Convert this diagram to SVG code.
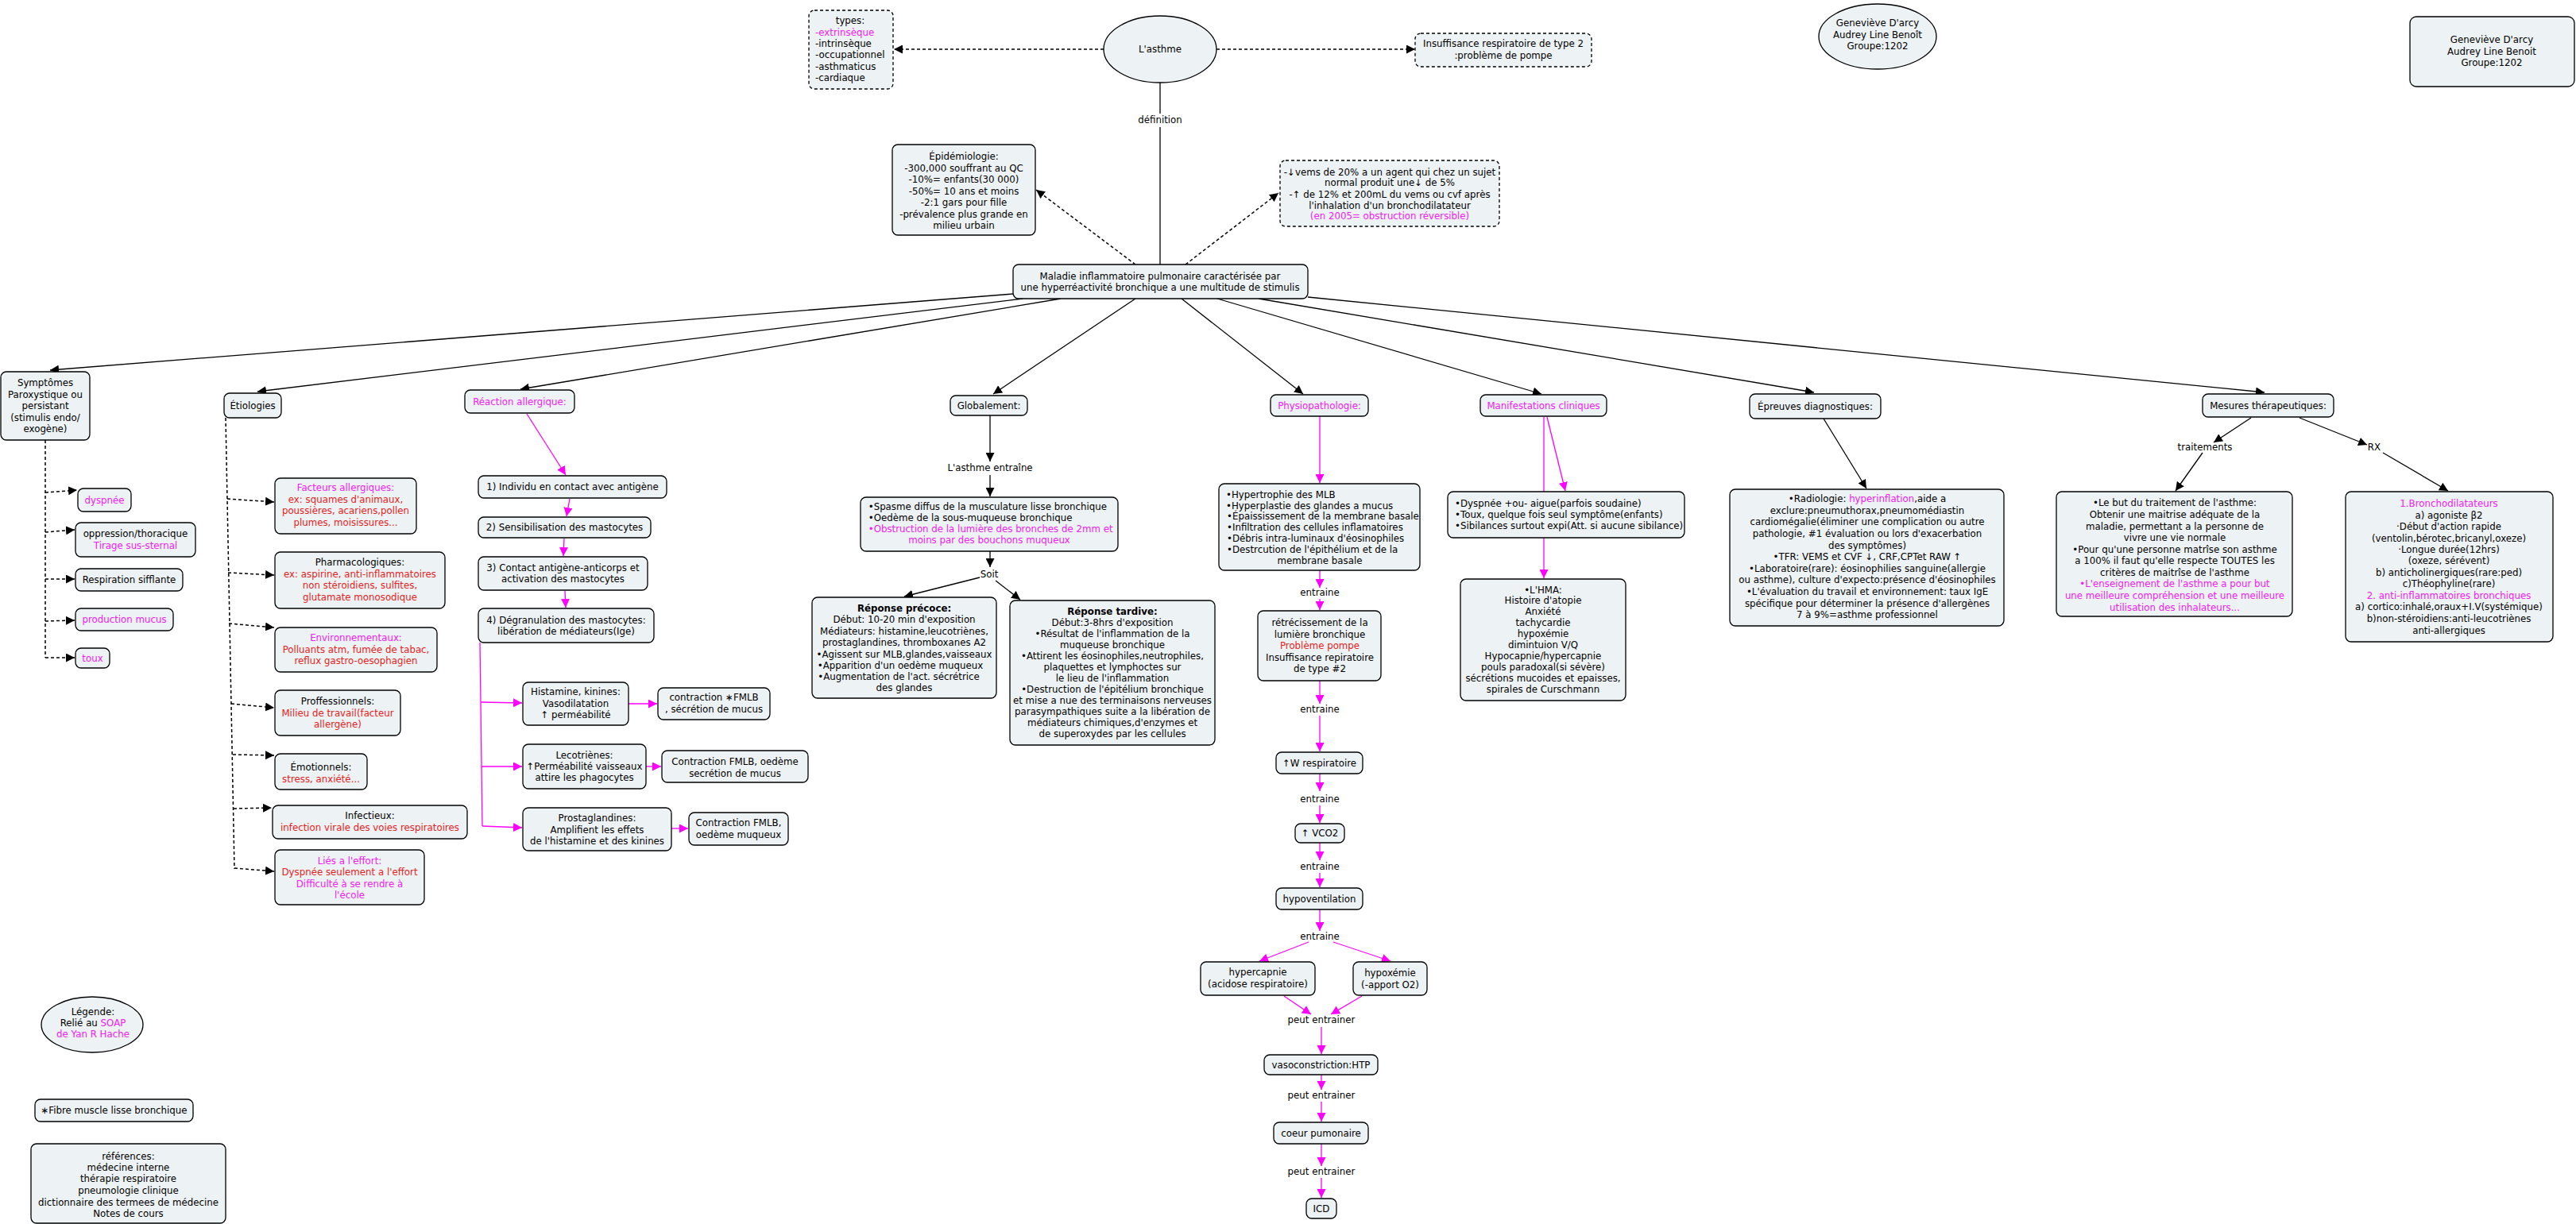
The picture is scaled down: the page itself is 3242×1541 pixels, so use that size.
<svg xmlns="http://www.w3.org/2000/svg" width="3242" height="1541" viewBox="0 0 3242 1541">
<defs>
<style>
.bg{fill:#fff}
.n{fill:#EDF2F4;stroke:#000;stroke-width:1.3}
.nd{fill:#EDF2F4;stroke:#000;stroke-width:1.3;stroke-dasharray:4,3}
text{font-family:"DejaVu Sans","Liberation Sans",sans-serif;font-size:11.8px;fill:#000;text-anchor:middle}
text.l{text-anchor:start}
.m{fill:#F020F0}
.r{fill:#E52222}
.b{font-weight:bold}
.k{stroke:#000;stroke-width:1.3;fill:none}
.kd{stroke:#000;stroke-width:1.5;fill:none;stroke-dasharray:4,3}
.p{stroke:#F0F;stroke-width:1.3;fill:none}
.ka{marker-end:url(#ak)}
.pa{marker-end:url(#am)}
</style>
<marker id="ak" viewBox="0 0 11 11" refX="11" refY="5.5" markerWidth="11" markerHeight="11" markerUnits="userSpaceOnUse" orient="auto"><path d="M0,0 L11,5.5 L0,11 z" fill="#000"/></marker>
<marker id="am" viewBox="0 0 11 11" refX="11" refY="5.5" markerWidth="11" markerHeight="11" markerUnits="userSpaceOnUse" orient="auto"><path d="M0,0 L11,5.5 L0,11 z" fill="#F0F"/></marker>
</defs>
<rect class="bg" x="0" y="0" width="3242" height="1541"/>

<g id="connectors">
<path class="k" d="M1460,104 L1460,143 M1460,160 L1460,333"/>
<path class="kd ka" d="M1389,62 L1125,62"/>
<path class="kd ka" d="M1531,62 L1781,62"/>
<path class="kd ka" d="M1429,333 L1304,239"/>
<path class="kd ka" d="M1492,333 L1609,243"/>
<path class="k ka" d="M1275,370 L63,466"/>
<path class="k ka" d="M1287,376 L324,493"/>
<path class="k ka" d="M1335,376 L655,490"/>
<path class="k ka" d="M1429,376 L1250,496"/>
<path class="k ka" d="M1487,376 L1640,496"/>
<path class="k ka" d="M1532,376 L1940,496"/>
<path class="k ka" d="M1584,376 L2283,494"/>
<path class="k ka" d="M1646,374 L2850,494"/>
<!-- Symptomes -->
<path class="kd" d="M57,554 L57,828"/>
<path class="kd ka" d="M57,620 L97,617"/>
<path class="kd ka" d="M57,670 L94,667"/>
<path class="kd ka" d="M57,729 L94,729"/>
<path class="kd ka" d="M57,782 L94,781"/>
<path class="kd ka" d="M57,828 L94,828"/>
<!-- Etiologies -->
<path class="kd" d="M284,526 L295,1094"/>
<path class="kd ka" d="M286,628 L345,632"/>
<path class="kd ka" d="M287,721 L345,724"/>
<path class="kd ka" d="M288,785 L345,790"/>
<path class="kd ka" d="M291,886 L345,891"/>
<path class="kd ka" d="M293,950 L345,951"/>
<path class="kd ka" d="M294,1018 L342,1017"/>
<path class="kd ka" d="M295,1093 L345,1097"/>
<!-- Reaction allergique -->
<path class="p pa" d="M663,521 L712,598"/>
<path class="p pa" d="M717,628 L713,650"/>
<path class="p pa" d="M710,678 L709,700"/>
<path class="p pa" d="M711,744 L712,765"/>
<path class="p" d="M604,809 L607,1040"/>
<path class="p pa" d="M605,884 L657,885"/>
<path class="p pa" d="M606,965 L657,965"/>
<path class="p pa" d="M607,1040 L657,1042"/>
<path class="p pa" d="M791,886 L827,886"/>
<path class="p pa" d="M813,965 L832,965"/>
<path class="p pa" d="M845,1043 L866,1043"/>
<!-- Globalement -->
<path class="k ka" d="M1246,523 L1246,581"/>
<path class="k ka" d="M1246,598 L1246,625"/>
<path class="k ka" d="M1246,694 L1246,714"/>
<path class="k ka" d="M1233,727 L1138,751"/>
<path class="k ka" d="M1253,731 L1284,755"/>
<!-- Physiopathologie -->
<path class="p pa" d="M1661,524 L1661,608"/>
<path class="p pa" d="M1661,718 L1661,740"/>
<path class="p pa" d="M1661,754 L1661,768"/>
<path class="p pa" d="M1661,857 L1661,886"/>
<path class="p pa" d="M1661,901 L1661,946"/>
<path class="p pa" d="M1661,974 L1661,996"/>
<path class="p pa" d="M1661,1014 L1661,1036"/>
<path class="p pa" d="M1661,1061 L1661,1083"/>
<path class="p pa" d="M1661,1099 L1661,1117"/>
<path class="p pa" d="M1661,1145 L1661,1172"/>
<path class="p pa" d="M1647,1186 L1585,1210"/>
<path class="p pa" d="M1678,1186 L1750,1210"/>
<path class="p pa" d="M1616,1254 L1650,1277"/>
<path class="p pa" d="M1714,1254 L1675,1277"/>
<path class="p pa" d="M1663,1293 L1663,1327"/>
<path class="p pa" d="M1663,1353 L1663,1372"/>
<path class="p pa" d="M1663,1387 L1663,1412"/>
<path class="p pa" d="M1663,1440 L1663,1468"/>
<path class="p pa" d="M1663,1483 L1663,1508"/>
<!-- Manifestations -->
<path class="p" d="M1943,525 L1943,619"/>
<path class="p pa" d="M1947,525 L1970,618"/>
<path class="p pa" d="M1943,677 L1943,728"/>
<!-- Epreuves -->
<path class="k ka" d="M2295,527 L2349,615"/>
<!-- Mesures -->
<path class="k ka" d="M2833,526 L2786,557"/>
<path class="k ka" d="M2772,570 L2738,618"/>
<path class="k ka" d="M2894,526 L2979,560"/>
<path class="k ka" d="M2999,570 L3081,618"/>
<!-- linking phrases -->
<text x="1460" y="155">définition</text>
<text x="1246" y="593">L'asthme entraîne</text>
<text x="1245" y="727">Soit</text>
<text x="1661" y="750">entraine</text>
<text x="1661" y="897">entraine</text>
<text x="1661" y="1010">entraine</text>
<text x="1661" y="1095">entraine</text>
<text x="1661" y="1183">entraine</text>
<text x="1663" y="1288">peut entrainer</text>
<text x="1663" y="1383">peut entrainer</text>
<text x="1663" y="1479">peut entrainer</text>
<text x="2775" y="567">traitements</text>
<text x="2988" y="567">RX</text>
</g>

<g id="n-types"><rect class="nd" x="1018" y="13" width="106" height="99" rx="7"/>
<text x="1070" y="30">types:</text>
<text class="l m" x="1026" y="44.5">-extrinsèque</text>
<text class="l" x="1026" y="58.8">-intrinsèque</text>
<text class="l" x="1026" y="73.3">-occupationnel</text>
<text class="l" x="1026" y="88">-asthmaticus</text>
<text class="l" x="1026" y="102.3">-cardiaque</text></g>

<g id="n-asthme"><ellipse class="n" cx="1460" cy="62" rx="71" ry="42"/><text x="1460" y="66.3">L'asthme</text></g>

<g id="n-insuff"><rect class="nd" x="1781" y="42" width="222" height="42" rx="7"/>
<text x="1892" y="59.3">Insuffisance respiratoire de type 2</text>
<text x="1892" y="74.3">:problème de pompe</text></g>

<g id="n-epid"><rect class="n" x="1123" y="182" width="180" height="114" rx="7"/>
<text x="1213" y="201">Épidémiologie:</text>
<text x="1213" y="216">-300,000 souffrant au QC</text>
<text x="1213" y="230.3">-10%= enfants(30 000)</text>
<text x="1213" y="245">-50%= 10 ans et moins</text>
<text x="1213" y="259.3">-2:1 gars pour fille</text>
<text x="1213" y="273.6">-prévalence plus grande en</text>
<text x="1213" y="288.3">milieu urbain</text></g>

<g id="n-vems"><rect class="nd" x="1611" y="202" width="276" height="83" rx="7"/>
<text x="1749" y="221">-↓vems de 20% a un agent qui chez un sujet</text>
<text x="1749" y="234.3">normal produit une↓ de 5%</text>
<text x="1749" y="248.6">-↑ de 12% et 200mL du vems ou cvf après</text>
<text x="1749" y="262.6">l'inhalation d'un bronchodilatateur</text>
<text class="m" x="1749" y="276.3">(en 2005=  obstruction réversible)</text></g>

<g id="n-maladie"><rect class="n" x="1275" y="333" width="371" height="43" rx="7"/>
<text x="1460" y="352">Maladie inflammatoire pulmonaire caractérisée par</text>
<text x="1460" y="366.3">une hyperréactivité bronchique a une multitude de stimulis</text></g>

<g id="n-auteurs1"><ellipse class="n" cx="2363" cy="46" rx="74" ry="41"/>
<text x="2363" y="33.3">Geneviève D'arcy</text>
<text x="2363" y="47.6">Audrey Line Benoît</text>
<text x="2363" y="61.6">Groupe:1202</text></g>

<g id="n-auteurs2"><rect class="n" x="3033" y="21" width="207" height="88" rx="8"/>
<text x="3136" y="54.3">Geneviève D'arcy</text>
<text x="3136" y="68.6">Audrey Line Benoit</text>
<text x="3136" y="83.3">Groupe:1202</text></g>

<g id="n-symptomes"><rect class="n" x="1" y="468" width="112" height="86" rx="7"/>
<text x="57" y="485.8">Symptômes</text>
<text x="57" y="500.6">Paroxystique ou</text>
<text x="57" y="514.8">persistant</text>
<text x="57" y="529.6">(stimulis endo/</text>
<text x="57" y="544.3">exogène)</text></g>
<g id="n-dyspnee"><rect class="n" x="98" y="615" width="67" height="29" rx="7"/><text class="m" x="131.5" y="634">dyspnée</text></g>
<g id="n-oppression"><rect class="n" x="95" y="658" width="151" height="43" rx="7"/><text x="170.5" y="676">oppression/thoracique</text><text class="m" x="170.5" y="690.7">Tirage sus-sternal</text></g>
<g id="n-respiration"><rect class="n" x="95" y="716" width="135" height="28" rx="7"/><text x="162.5" y="734.3">Respiration sifflante</text></g>
<g id="n-mucus"><rect class="n" x="95" y="766" width="123" height="28" rx="7"/><text class="m" x="156.5" y="784.3">production mucus</text></g>
<g id="n-toux"><rect class="n" x="95" y="816" width="43" height="25" rx="7"/><text class="m" x="116.5" y="832.8">toux</text></g>

<g id="n-etiologies"><rect class="n" x="282" y="495" width="72" height="31" rx="7"/><text x="318" y="514.8">Étiologies</text></g>
<g id="n-facteurs"><rect class="n" x="346" y="602" width="178" height="70" rx="7"/>
<text class="m" x="435" y="618">Facteurs allergiques:</text>
<text class="r" x="435" y="632.7">ex: squames d'animaux,</text>
<text class="r" x="435" y="647.4">poussières, acariens,pollen</text>
<text class="r" x="435" y="662.2">plumes, moisissures...</text></g>
<g id="n-pharma"><rect class="n" x="346" y="695" width="214" height="71" rx="7"/>
<text x="453" y="712.2">Pharmacologiques:</text>
<text class="r" x="453" y="726.9">ex: aspirine, anti-inflammatoires</text>
<text class="r" x="453" y="741.2">non stéroidiens, sulfites,</text>
<text class="r" x="453" y="755.9">glutamate monosodique</text></g>
<g id="n-environ"><rect class="n" x="346" y="790" width="204" height="56" rx="7"/>
<text class="m" x="448" y="806.8">Environnementaux:</text>
<text class="r" x="448" y="821.5">Polluants atm, fumée de tabac,</text>
<text class="r" x="448" y="835.8">reflux gastro-oesophagien</text></g>
<g id="n-proff"><rect class="n" x="346" y="869" width="158" height="57" rx="7"/>
<text x="425" y="887.2">Proffessionnels:</text>
<text class="r" x="425" y="901.9">Milieu de travail(facteur</text>
<text class="r" x="425" y="916.2">allergène)</text></g>
<g id="n-emot"><rect class="n" x="346" y="949" width="116" height="45" rx="7"/>
<text x="404" y="969.7">Émotionnels:</text>
<text class="r" x="404" y="984.5">stress, anxiété...</text></g>
<g id="n-infect"><rect class="n" x="343" y="1014" width="245" height="42" rx="7"/>
<text x="465.5" y="1031.3">Infectieux:</text>
<text class="r" x="465.5" y="1045.6">infection virale des voies respiratoires</text></g>
<g id="n-effort"><rect class="n" x="346" y="1070" width="188" height="69" rx="7"/>
<text class="m" x="440" y="1088.1">Liés a l'effort:</text>
<text class="r" x="440" y="1102.3">Dyspnée seulement a l'effort</text>
<text class="m" x="440" y="1117.1">Difficulté à se rendre à</text>
<text class="m" x="440" y="1131.3">l'école</text></g>

<g id="n-reaction"><rect class="n" x="585" y="491" width="138" height="29" rx="7"/><text class="m" x="654" y="509.8">Réaction allergique:</text></g>
<g id="n-r1"><rect class="n" x="602" y="599" width="237" height="28" rx="7"/><text x="720.5" y="617.3">1) Individu en contact avec antigène</text></g>
<g id="n-r2"><rect class="n" x="602" y="651" width="217" height="26" rx="7"/><text x="710.5" y="668.3">2) Sensibilisation des mastocytes</text></g>
<g id="n-r3"><rect class="n" x="602" y="701" width="213" height="42" rx="7"/><text x="708.5" y="718.9">3) Contact antigène-anticorps et</text><text x="708.5" y="733.4">activation des mastocytes</text></g>
<g id="n-r4"><rect class="n" x="602" y="766" width="221" height="43" rx="7"/><text x="712.5" y="784.7">4) Dégranulation des mastocytes:</text><text x="712.5" y="799.3">libération de médiateurs(Ige)</text></g>
<g id="n-histamine"><rect class="n" x="658" y="859" width="133" height="54" rx="7"/>
<text x="724.5" y="875">Histamine, kinines:</text>
<text x="724.5" y="889.6">Vasodilatation</text>
<text x="724.5" y="903.7">↑ perméabilité</text></g>
<g id="n-contr1"><rect class="n" x="828" y="866" width="141" height="40" rx="7"/>
<text x="898.5" y="881.9">contraction ∗FMLB</text>
<text x="898.5" y="896.5">, sécrétion de mucus</text></g>
<g id="n-leco"><rect class="n" x="658" y="937" width="155" height="56" rx="7"/>
<text x="735.5" y="954.6">Lecotriènes:</text>
<text x="735.5" y="968.8">↑Perméabilité vaisseaux</text>
<text x="735.5" y="982.9">attire les phagocytes</text></g>
<g id="n-contr2"><rect class="n" x="833" y="945" width="184" height="40" rx="7"/>
<text x="925" y="962.7">Contraction FMLB, oedème</text>
<text x="925" y="977.6">secrétion de mucus</text></g>
<g id="n-prosta"><rect class="n" x="658" y="1017" width="187" height="54" rx="7"/>
<text x="751.5" y="1034.3">Prostaglandines:</text>
<text x="751.5" y="1048.8">Amplifient les effets</text>
<text x="751.5" y="1062.9">de l'histamine et des kinines</text></g>
<g id="n-contr3"><rect class="n" x="867" y="1023" width="125" height="41" rx="7"/>
<text x="929.5" y="1039.6">Contraction FMLB,</text>
<text x="929.5" y="1054.5">oedème muqueux</text></g>

<g id="n-global"><rect class="n" x="1196" y="498" width="97" height="25" rx="7"/><text x="1244.5" y="514.8">Globalement:</text></g>
<g id="n-spasme"><rect class="n" x="1083" y="626" width="324" height="68" rx="7"/>
<text class="l" x="1092.7" y="642">•Spasme diffus de la musculature lisse bronchique</text>
<text class="l" x="1092.7" y="656.3">•Oedème de la sous-muqueuse bronchique</text>
<text class="l m" x="1092.7" y="670.3">•Obstruction de la lumière des bronches de 2mm et</text>
<text class="m" x="1245" y="684.3">moins par des bouchons muqueux</text></g>
<g id="n-precoce"><rect class="n" x="1022" y="752" width="232" height="127" rx="7"/>
<text class="b" x="1138" y="770">Réponse précoce:</text>
<text x="1138" y="784.3">Début: 10-20 min d'exposition</text>
<text x="1138" y="798.6">Médiateurs: histamine,leucotriènes,</text>
<text x="1138" y="813.3">prostaglandines, thromboxanes A2</text>
<text x="1138" y="827.6">•Agissent sur MLB,glandes,vaisseaux</text>
<text x="1133" y="841.6">•Apparition d'un oedème muqueux</text>
<text x="1131" y="855.6">•Augmentation de l'act. sécrétrice</text>
<text x="1138" y="869.6">des glandes</text></g>
<g id="n-tardive"><rect class="n" x="1271" y="756" width="258" height="182" rx="7"/>
<text class="b" x="1400" y="773.6">Réponse tardive:</text>
<text x="1400" y="788.3">Début:3-8hrs d'exposition</text>
<text x="1400" y="802.3">•Résultat de l'inflammation de la</text>
<text x="1400" y="816.3">muqueuse bronchique</text>
<text x="1400" y="830.3">•Attirent les éosinophiles,neutrophiles,</text>
<text x="1400" y="844.3">plaquettes et lymphoctes sur</text>
<text x="1400" y="858.3">le lieu de l'inflammation</text>
<text x="1400" y="872.3">•Destruction de l'épitélium bronchique</text>
<text x="1400" y="886.3">et mise a nue des terminaisons nerveuses</text>
<text x="1400" y="900.3">parasympathiques suite a la libération de</text>
<text x="1400" y="914.3">médiateurs chimiques,d'enzymes et</text>
<text x="1400" y="928.3">de superoxydes par les cellules</text></g>

<g id="n-physio"><rect class="n" x="1599" y="497" width="123" height="27" rx="7"/><text class="m" x="1660.5" y="514.8">Physiopathologie:</text></g>
<g id="n-hypertrophie"><rect class="n" x="1534" y="609" width="253" height="109" rx="7"/>
<text class="l" x="1543" y="626.6">•Hypertrophie des MLB</text>
<text class="l" x="1543" y="640.6">•Hyperplastie des glandes a mucus</text>
<text class="l" x="1544" y="654.3">•Épaississement de la membrane basale</text>
<text class="l" x="1544" y="668.3">•Infiltration des cellules inflamatoires</text>
<text class="l" x="1544" y="682.3">•Débris intra-luminaux d'éosinophiles</text>
<text class="l" x="1544" y="696.3">•Destrcution de l'épithélium et de la</text>
<text x="1661" y="710.3">membrane basale</text></g>
<g id="n-retrec"><rect class="n" x="1583" y="769" width="155" height="88" rx="7"/>
<text x="1661" y="788">rétrécissement de la</text>
<text x="1661" y="802.6">lumière bronchique</text>
<text class="r" x="1661" y="817">Problème pompe</text>
<text x="1661" y="831.6">Insuffisance repiratoire</text>
<text x="1661" y="846.3">de type #2</text></g>
<g id="n-wresp"><rect class="n" x="1606" y="947" width="109" height="27" rx="7"/><text x="1660.5" y="964.8">↑W respiratoire</text></g>
<g id="n-vco2"><rect class="n" x="1630" y="1037" width="62" height="24" rx="7"/><text x="1661" y="1053.3">↑ VCO2</text></g>
<g id="n-hypovent"><rect class="n" x="1606" y="1118" width="109" height="27" rx="7"/><text x="1660.5" y="1135.8">hypoventilation</text></g>
<g id="n-hypercapnie"><rect class="n" x="1511" y="1211" width="144" height="42" rx="7"/><text x="1583" y="1228.3">hypercapnie</text><text x="1583" y="1243">(acidose respiratoire)</text></g>
<g id="n-hypoxemie"><rect class="n" x="1703" y="1211" width="93" height="42" rx="7"/><text x="1749.5" y="1229.3">hypoxémie</text><text x="1749.5" y="1243.6">(-apport O2)</text></g>
<g id="n-vaso"><rect class="n" x="1591" y="1328" width="143" height="25" rx="7"/><text x="1662.5" y="1344.8">vasoconstriction:HTP</text></g>
<g id="n-coeur"><rect class="n" x="1603" y="1413" width="119" height="27" rx="7"/><text x="1662.5" y="1430.8">coeur pumonaire</text></g>
<g id="n-icd"><rect class="n" x="1644" y="1509" width="38" height="25" rx="7"/><text x="1663" y="1525.8">ICD</text></g>

<g id="n-manif"><rect class="n" x="1863" y="497" width="159" height="27" rx="7"/><text class="m" x="1942.5" y="514.8">Manifestations cliniques</text></g>
<g id="n-dyspnee2"><rect class="n" x="1822" y="619" width="298" height="58" rx="7"/>
<text class="l" x="1831" y="638">•Dyspnée +ou- aigue(parfois soudaine)</text>
<text class="l" x="1831" y="652">•Toux, quelque fois seul symptôme(enfants)</text>
<text class="l" x="1831" y="666">•Sibilances surtout expi(Att. si aucune sibilance)</text></g>
<g id="n-hma"><rect class="n" x="1838" y="729" width="208" height="153" rx="7"/>
<text x="1942" y="746.6">•L'HMA:</text>
<text x="1942" y="760.3">Histoire d'atopie</text>
<text x="1942" y="774.3">Anxiété</text>
<text x="1942" y="788.3">tachycardie</text>
<text x="1942" y="802.3">hypoxémie</text>
<text x="1942" y="816.3">dimintuion V/Q</text>
<text x="1942" y="830.3">Hypocapnie/hypercapnie</text>
<text x="1942" y="844.3">pouls paradoxal(si sévère)</text>
<text x="1942" y="858.3">sécrétions mucoides et epaisses,</text>
<text x="1942" y="872">spirales de Curschmann</text></g>

<g id="n-epreuves"><rect class="n" x="2202" y="496" width="165" height="31" rx="7"/><text x="2284.5" y="515.8">Épreuves diagnostiques:</text></g>
<g id="n-radio"><rect class="n" x="2177" y="616" width="345" height="172" rx="7"/>
<text x="2350" y="632">•Radiologie: <tspan class="m">hyperinflation</tspan>,aide a</text>
<text x="2350" y="646.6">exclure:pneumuthorax,pneumomédiastin</text>
<text x="2350" y="661.3">cardiomégalie(éliminer une complication ou autre</text>
<text x="2350" y="676">pathologie, #1 évaluation ou lors d'exacerbation</text>
<text x="2350" y="690.6">des symptômes)</text>
<text x="2350" y="705">•TFR: VEMS et CVF ↓, CRF,CPTet RAW ↑</text>
<text x="2350" y="719.6">•Laboratoire(rare): éosinophilies sanguine(allergie</text>
<text x="2350" y="734.3">ou asthme), culture d'expecto:présence d'éosinophiles</text>
<text x="2350" y="749">•L'évaluation du travail et environnement: taux IgE</text>
<text x="2350" y="763.6">spécifique pour déterminer la présence d'allergènes</text>
<text x="2350" y="778.3">7 à 9%=asthme professionnel</text></g>

<g id="n-mesures"><rect class="n" x="2772" y="496" width="165" height="29" rx="7"/><text x="2854.5" y="514.8">Mesures thérapeutiques:</text></g>
<g id="n-but"><rect class="n" x="2588" y="619" width="297" height="157" rx="7"/>
<text x="2737" y="637.3">•Le but du traitement de l'asthme:</text>
<text x="2737" y="652">Obtenir une maitrise adéquate de la</text>
<text x="2737" y="666.6">maladie, permettant a la personne de</text>
<text x="2737" y="681">vivre une vie normale</text>
<text x="2737" y="695.6">•Pour qu'une personne matrîse son asthme</text>
<text x="2737" y="710.3">a 100% il faut qu'elle respecte TOUTES les</text>
<text x="2737" y="724.6">critères de maitrîse  de l'asthme</text>
<text class="m" x="2737" y="739.3">•L'enseignement de l'asthme a pour but</text>
<text class="m" x="2737" y="754">une meilleure compréhension et une meilleure</text>
<text class="m" x="2737" y="768.6">utilisation des inhalateurs...</text></g>
<g id="n-broncho"><rect class="n" x="2952" y="619" width="261" height="189" rx="7"/>
<text class="m" x="3082" y="638">1.Bronchodilatateurs</text>
<text x="3082" y="653">a) agoniste β2</text>
<text x="3082" y="667.3">·Début d'action rapide</text>
<text x="3082" y="681.6">(ventolin,bérotec,bricanyl,oxeze)</text>
<text x="3082" y="696">·Longue durée(12hrs)</text>
<text x="3082" y="710.3">(oxeze, sérévent)</text>
<text x="3082" y="724.6">b) anticholinergiques(rare:ped)</text>
<text x="3082" y="739.3">c)Théophyline(rare)</text>
<text class="m" x="3082" y="753.6">2. anti-inflammatoires bronchiques</text>
<text x="3082" y="768">a) cortico:inhalé,oraux+I.V(systémique)</text>
<text x="3082" y="782.6">b)non-stéroidiens:anti-leucotriènes</text>
<text x="3082" y="797.6">anti-allergiques</text></g>

<g id="n-legende"><ellipse class="n" cx="116" cy="1290" rx="64" ry="35"/>
<text x="117" y="1277.6">Légende:</text>
<text x="117" y="1291.6">Relié au <tspan class="m">SOAP</tspan></text>
<text class="m" x="117" y="1306">de Yan R Hache</text></g>
<g id="n-fibre"><rect class="n" x="44" y="1384" width="199" height="28" rx="7"/><text x="143.5" y="1402.3">∗Fibre muscle lisse bronchique</text></g>
<g id="n-refs"><rect class="n" x="39" y="1440" width="245" height="100" rx="7"/>
<text x="161.5" y="1459.6">références:</text>
<text x="161.5" y="1473.6">médecine interne</text>
<text x="161.5" y="1488.3">thérapie respiratoire</text>
<text x="161.5" y="1502.6">pneumologie clinique</text>
<text x="161.5" y="1517.6">dictionnaire des termees de médecine</text>
<text x="161.5" y="1532">Notes de cours</text></g>
</svg>
